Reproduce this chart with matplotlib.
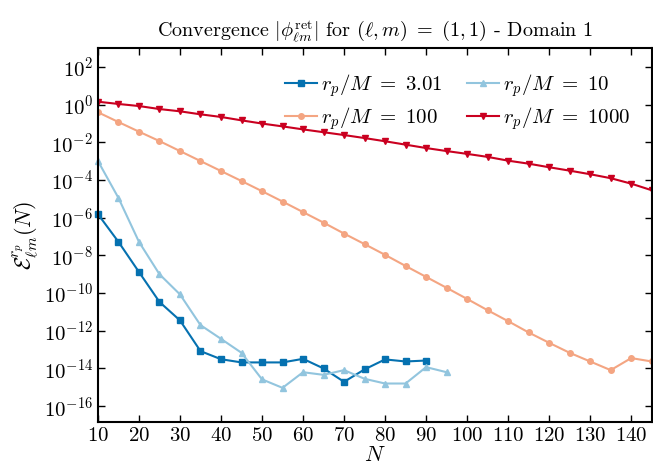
import matplotlib
matplotlib.use("Agg")
import matplotlib.pyplot as plt
import numpy as np

plt.rcParams['font.family'] = 'serif'
plt.rcParams['font.serif'] = ['cmr10']
plt.rcParams['mathtext.fontset'] = 'cm'
plt.rcParams['axes.formatter.use_mathtext'] = True

# log10 of the error
N_301 = [10, 15, 20, 25, 30, 35, 40, 45, 50, 55, 60, 65, 70, 75, 80, 85, 90]
logE_301 = [-5.81, -7.28, -8.88, -10.47, -11.45, -13.08, -13.51, -13.68, -13.68,
            -13.68, -13.49, -14.00, -14.71, -14.05, -13.52, -13.63, -13.58]

N_10 = [10, 15, 20, 25, 30, 35, 40, 45, 50, 55, 60, 65, 70, 75, 80, 85, 90, 95]
logE_10 = [-2.99, -4.95, -7.28, -9.00, -10.07, -11.70, -12.43, -13.17, -14.58,
           -15.03, -14.20, -14.34, -14.09, -14.55, -14.80, -14.80, -13.93, -14.20]

N_100 = [10, 15, 20, 25, 30, 35, 40, 45, 50, 55, 60, 65, 70, 75, 80, 85, 90, 95,
         100, 105, 110, 115, 120, 125, 130, 135, 140, 145]
logE_100 = [-0.40, -0.92, -1.43, -1.93, -2.46, -2.99, -3.52, -4.05, -4.59, -5.14,
            -5.70, -6.26, -6.84, -7.40, -7.97, -8.56, -9.14, -9.72, -10.31, -10.91,
            -11.49, -12.09, -12.64, -13.17, -13.63, -14.09, -13.45, -13.63]

N_1000 = N_100
logE_1000 = [0.16, 0.04, -0.07, -0.23, -0.35, -0.51, -0.65, -0.83, -1.00, -1.15,
             -1.31, -1.46, -1.61, -1.77, -1.94, -2.12, -2.30, -2.46, -2.61, -2.77,
             -2.97, -3.13, -3.32, -3.50, -3.69, -3.90, -4.19, -4.54]

fig = plt.figure(figsize=(6.53, 4.68), dpi=100)
ax = fig.add_axes([0.150, 0.098, 0.848, 0.799])

l1, = ax.semilogy(N_301, 10 ** np.array(logE_301), '-s', color='#0571b0', lw=1.5, ms=4,
                  label=r'$r_p/M\ =\ 3.01$', clip_on=False)
l2, = ax.semilogy(N_10, 10 ** np.array(logE_10), '-^', color='#92c5de', lw=1.5, ms=4,
                  label=r'$r_p/M\ =\ 10$', clip_on=False)
l3, = ax.semilogy(N_100, 10 ** np.array(logE_100), '-o', color='#f4a582', lw=1.5, ms=4,
                  label=r'$r_p/M\ =\ 100$')
l4, = ax.semilogy(N_1000, 10 ** np.array(logE_1000), '-v', color='#ca0020', lw=1.5, ms=4,
                  label=r'$r_p/M\ =\ 1000$')

ax.set_xlim(10, 145)
ax.set_ylim(10 ** -16.85, 10 ** 3.0)
ax.set_xticks(np.arange(10, 141, 10))
ax.set_yticks([10.0 ** k for k in range(-16, 3, 2)])
ax.minorticks_off()
ax.tick_params(direction='in', top=True, right=True, labelsize=15, length=5, width=1)
for s in ax.spines.values():
    s.set_linewidth(1.5)

ax.set_xlabel(r'$N$', fontsize=16, labelpad=0)
ax.set_ylabel(r'$\mathcal{E}^{r_p}_{\ell m}(N)$', fontsize=16, labelpad=2)
ax.set_title(r'Convergence $|\phi^{\rm ret}_{\ell m}|$ for $(\ell, m)\ =\ (1,1)$ - Domain 1',
             fontsize=14.5, pad=8)

# row-wise order: 3.01, 10 / 100, 1000
ax.legend([l1, l3, l2, l4], [l1.get_label(), l3.get_label(), l2.get_label(), l4.get_label()],
          ncol=2, frameon=False, fontsize=15, handlelength=1.5, handletextpad=0.2,
          columnspacing=1.2, labelspacing=0.3, loc='upper right',
          bbox_to_anchor=(0.995, 0.985))

fig.savefig('out.png', dpi=100)
